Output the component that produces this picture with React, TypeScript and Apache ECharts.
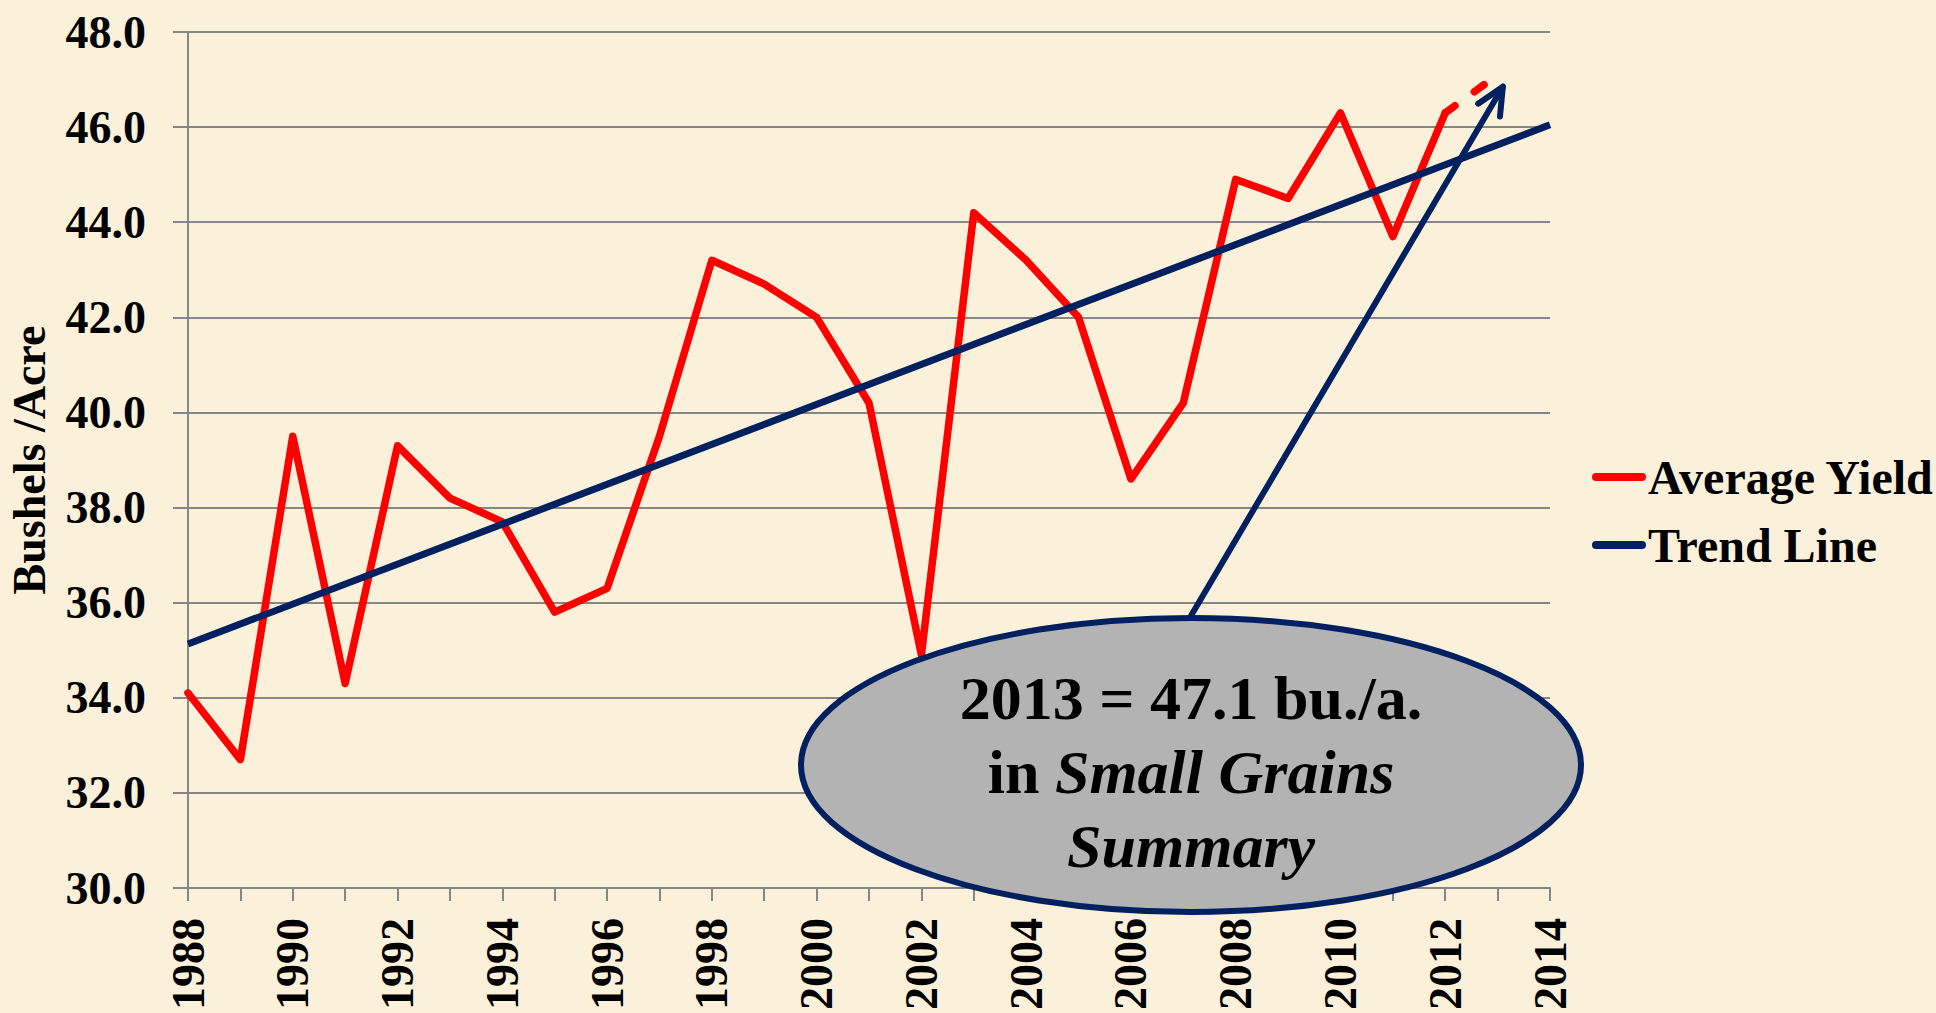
import React, { useEffect, useRef } from "react";
import * as echarts from "echarts";

// ---- data ----
const years = [1988, 1989, 1990, 1991, 1992, 1993, 1994, 1995, 1996, 1997, 1998, 1999, 2000, 2001, 2002, 2003, 2004, 2005, 2006, 2007, 2008, 2009, 2010, 2011, 2012];
const avgYield = [34.1, 32.7, 39.5, 34.3, 39.3, 38.2, 37.7, 35.8, 36.3, 39.5, 43.2, 42.7, 42.0, 40.2, 34.9, 44.2, 43.2, 42.0, 38.6, 40.2, 44.9, 44.5, 46.3, 43.7, 46.3];
const estimateYears = [2012, 2013];
const estimateValues = [46.3, 47.1];
const trendYears = [1988, 2014];
const trendValues = [35.13, 46.05];
const seriesNames = ["Average Yield", "Trend Line"];
const yAxisTitle = "Bushels /Acre";
// annotation arrow (data coordinates: year, value)
const arrowFrom = [2007.15, 35.73];
const arrowTo = [2013.1, 46.85];
const calloutText = "{b|2013 = 47.1 bu./a.}\n{b|in }{bi|Small Grains}\n{bi|Summary}";

const RED = "#ff0000";
const NAVY = "#002060";
const GRID = "#868686";
const FONT = "'Liberation Serif', 'Times New Roman', serif";

export default function App() {
  const ref = useRef<HTMLDivElement>(null);

  useEffect(() => {
    if (!ref.current) return;
    const chart = echarts.init(ref.current, null, { renderer: "svg" });

    const option: any = {
      animation: false,
      backgroundColor: "#fbf1da",
      grid: { left: 188, right: 386, top: 32, bottom: 124, containLabel: false },
      legend: {
        data: seriesNames,
        orient: "vertical",
        left: 1587,
        top: 446,
        itemWidth: 54,
        itemHeight: 8,
        itemGap: 16,
        icon: "path://M4,0 H50 A4,4 0 0 1 50,8 H4 A4,4 0 0 1 4,0 Z",
        textStyle: { fontFamily: FONT, fontWeight: "bold", fontSize: 48, color: "#000", lineHeight: 52, padding: [0, 0, 0, -3] },
      },
      xAxis: {
        type: "value",
        min: 1988,
        max: 2014,
        interval: 1,
        splitLine: { show: false },
        axisLine: { show: true, lineStyle: { color: GRID, width: 2 } },
        axisTick: { show: true, inside: false, length: 13, lineStyle: { color: GRID, width: 2 } },
        axisLabel: {
          rotate: 90,
          margin: 30,
          fontFamily: FONT,
          fontWeight: "bold",
          fontSize: 46,
          color: "#000",
          showMinLabel: true,
          showMaxLabel: true,
          formatter: (v: number) => (v % 2 === 0 ? String(v) : ""),
        },
      },
      yAxis: {
        type: "value",
        min: 30,
        max: 48,
        interval: 2,
        splitLine: { show: true, lineStyle: { color: GRID, width: 2 } },
        axisLine: { show: true, lineStyle: { color: GRID, width: 2 } },
        axisTick: { show: true, inside: false, length: 15, lineStyle: { color: GRID, width: 2 } },
        axisLabel: {
          margin: 42,
          fontFamily: FONT,
          fontWeight: "bold",
          fontSize: 46,
          color: "#000",
          formatter: (v: number) => v.toFixed(1),
        },
      },
      series: [
        {
          name: seriesNames[0],
          type: "line",
          data: years.map((y, i) => [y, avgYield[i]]),
          showSymbol: false,
          symbol: "none",
          itemStyle: { color: RED },
          lineStyle: { color: RED, width: 7.5, cap: "round", join: "round" },
          z: 3,
        },
        {
          name: "2013 Estimate",
          type: "line",
          data: estimateYears.map((y, i) => [y, estimateValues[i]]),
          showSymbol: false,
          symbol: "none",
          itemStyle: { color: RED },
          lineStyle: { color: RED, width: 7.5, type: [12, 24], cap: "round" },
          z: 3,
        },
        {
          name: seriesNames[1],
          type: "line",
          data: trendYears.map((y, i) => [y, trendValues[i]]),
          showSymbol: false,
          symbol: "none",
          itemStyle: { color: NAVY },
          lineStyle: { color: NAVY, width: 7, cap: "butt" },
          z: 4,
        },
      ],
    };
    chart.setOption(option);

    const p0 = chart.convertToPixel({ gridIndex: 0 }, arrowFrom) as number[];
    const p1 = chart.convertToPixel({ gridIndex: 0 }, arrowTo) as number[];
    const dx = p1[0] - p0[0];
    const dy = p1[1] - p0[1];
    const len = Math.sqrt(dx * dx + dy * dy);
    const ux = -dx / len;
    const uy = -dy / len;
    const head = 30;
    const ang = (25 * Math.PI) / 180;
    const rot = (a: number) => [
      p1[0] + head * (ux * Math.cos(a) - uy * Math.sin(a)),
      p1[1] + head * (ux * Math.sin(a) + uy * Math.cos(a)),
    ];
    const h1 = rot(ang);
    const h2 = rot(-ang);

    chart.setOption({
      graphic: [
        {
          type: "text",
          x: 29,
          y: 460,
          rotation: Math.PI / 2,
          style: {
            text: yAxisTitle,
            fill: "#000",
            font: `bold 46px ${FONT}`,
            textAlign: "center",
            textVerticalAlign: "middle",
          },
          z: 100,
        },
        {
          type: "line",
          shape: { x1: p0[0], y1: p0[1], x2: p1[0], y2: p1[1] },
          style: { stroke: NAVY, lineWidth: 6, lineCap: "round" },
          z: 100,
        },
        {
          type: "polyline",
          shape: { points: [h1, p1, h2] },
          style: { stroke: NAVY, lineWidth: 6, lineCap: "round", lineJoin: "round", fill: "none" },
          z: 100,
        },
        {
          type: "ellipse",
          shape: { cx: 1191, cy: 765, rx: 390, ry: 147 },
          style: { fill: "#b3b3b3", stroke: NAVY, lineWidth: 6 },
          z: 101,
        },
        {
          type: "text",
          x: 1191,
          y: 772,
          style: {
            text: calloutText,
            fill: "#000",
            textAlign: "center",
            textVerticalAlign: "middle",
            rich: {
              b: { fontFamily: FONT, fontWeight: "bold", fontSize: 62, lineHeight: 74, fill: "#000" },
              bi: { fontFamily: FONT, fontWeight: "bold", fontStyle: "italic", fontSize: 62, lineHeight: 74, fill: "#000" },
            },
          },
          z: 102,
        },
      ],
    });

    return () => chart.dispose();
  }, []);

  return (
    <div
      ref={ref}
      style={{ position: "fixed", left: 0, top: 0, width: "1936px", height: "1013px" }}
    />
  );
}
